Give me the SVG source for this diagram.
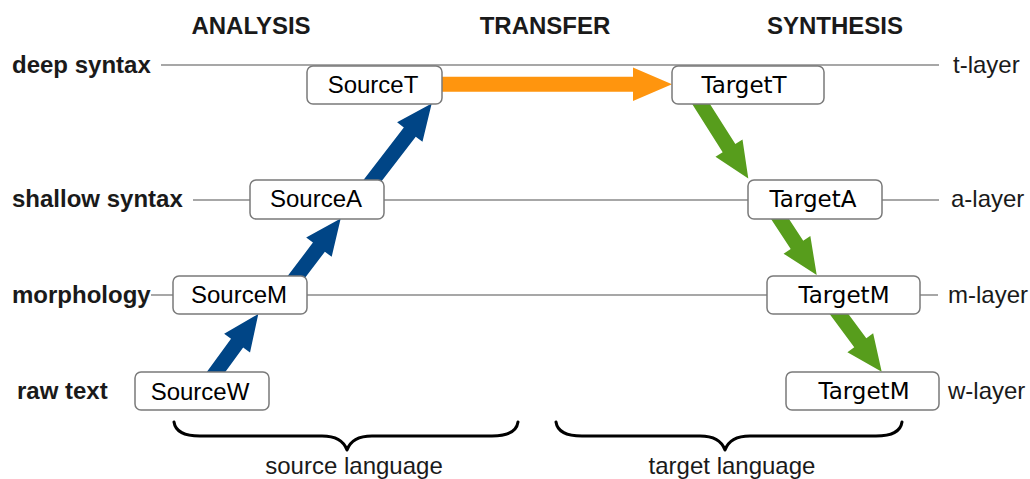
<svg xmlns="http://www.w3.org/2000/svg" width="1030" height="479" viewBox="0 0 1030 479">
<style>
.bg{fill:#ffffff}
.head{font-family:"Liberation Sans",Arial,sans-serif;font-weight:bold;font-size:24px;fill:#1a1a1a;text-anchor:middle}
.lab{font-family:"Liberation Sans",Arial,sans-serif;font-weight:bold;font-size:24px;fill:#1a1a1a}
.rl{font-family:"Liberation Sans",Arial,sans-serif;font-size:24px;fill:#1a1a1a}
.bl{font-family:"Liberation Sans",Arial,sans-serif;font-size:24px;fill:#1a1a1a;text-anchor:middle}
.layer{stroke:#8a8a8a;stroke-width:1.4;fill:none}
.box{fill:#ffffff;stroke:#7a7a7a;stroke-width:1.5}
.st{font-family:"Liberation Sans",Arial,sans-serif;font-size:24px;fill:#000;text-anchor:middle}
.tt{font-family:"DejaVu Sans",sans-serif;font-size:23px;fill:#000;text-anchor:middle}
.blue{fill:#004586}
.orange{fill:#ff950e}
.green{fill:#579d1c}
.brace{fill:none;stroke:#000;stroke-width:3;stroke-linecap:round;stroke-linejoin:round}
</style>
<rect class="bg" x="0" y="0" width="1030" height="479"/>

<g id="headings">
<text class="head" x="251" y="34">ANALYSIS</text>
<text class="head" x="545" y="34">TRANSFER</text>
<text class="head" x="835" y="34">SYNTHESIS</text>
</g>

<g id="layers">
<line class="layer" x1="161" y1="65" x2="939" y2="65"/>
<line class="layer" x1="193" y1="200" x2="939" y2="200"/>
<line class="layer" x1="151" y1="295" x2="938" y2="295"/>
<text class="lab" x="12" y="73">deep syntax</text>
<text class="lab" x="12" y="207">shallow syntax</text>
<text class="lab" x="12" y="303">morphology</text>
<text class="lab" x="17" y="399">raw text</text>
<text class="rl" x="953" y="73">t-layer</text>
<text class="rl" x="951" y="207">a-layer</text>
<text class="rl" x="948" y="303">m-layer</text>
<text class="rl" x="948" y="399">w-layer</text>
</g>

<g id="connectors">
<polygon class="blue" points="216.16,384.52 243.15,347.50 250.02,352.51 258.3,314 224.16,333.65 231.03,338.66 204.04,375.68"/>
<polygon class="blue" points="296.92,288.50 324.89,251.70 331.66,256.84 340.7,218.5 306.18,237.48 312.95,242.62 284.98,279.42"/>
<polygon class="blue" points="372.86,192.50 415.74,136.63 422.48,141.80 431.7,103.5 397.10,122.32 403.84,127.49 360.96,183.36"/>
<polygon class="orange" points="436,76.7 633,76.7 633,67.5 672,84.2 633,101 633,91.7 436,91.7"/>
<polygon class="green" points="689.31,99.58 722.67,152.13 715.49,156.69 748.3,178.5 742.51,139.53 735.33,144.09 701.97,91.54"/>
<polygon class="green" points="768.25,214.75 790.69,249.00 783.58,253.66 816.7,275 810.34,236.12 803.23,240.78 780.79,206.53"/>
<polygon class="green" points="827.02,310.42 854.25,347.22 847.42,352.28 881.7,371.7 873.14,333.24 866.31,338.30 839.08,301.50"/>
</g>

<g id="SourceT"><rect class="box" x="307" y="66" width="135" height="38" rx="6"/><text class="st" x="373" y="93">SourceT</text></g>
<g id="SourceA"><rect class="box" x="250" y="180" width="134" height="39" rx="6"/><text class="st" x="316" y="207">SourceA</text></g>
<g id="SourceM"><rect class="box" x="173" y="276" width="134" height="38" rx="6"/><text class="st" x="239" y="303">SourceM</text></g>
<g id="SourceW"><rect class="box" x="135" y="372" width="134" height="38" rx="6"/><text class="st" x="200" y="400">SourceW</text></g>
<g id="TargetT"><rect class="box" x="672" y="66" width="152" height="38" rx="6"/><text class="tt" x="744" y="93">TargetT</text></g>
<g id="TargetA"><rect class="box" x="748" y="180" width="134" height="39" rx="6"/><text class="tt" x="813" y="207">TargetA</text></g>
<g id="TargetM"><rect class="box" x="767" y="276" width="153" height="38" rx="6"/><text class="tt" x="844" y="303">TargetM</text></g>
<g id="TargetW"><rect class="box" x="786" y="372" width="153" height="38" rx="6"/><text class="tt" x="864" y="399">TargetM</text></g>

<g id="braces">
<path class="brace" d="M174,422 Q176,436 200,436 L322,436 Q342,436 347,450 Q352,436 372,436 L492,436 Q516,436 518,422"/>
<path class="brace" d="M556,422 Q558,436 582,436 L700,436 Q720,436 725,450 Q730,436 750,436 L876,436 Q900,436 902,422"/>
<text class="bl" x="354" y="474">source language</text>
<text class="bl" x="732" y="474">target language</text>
</g>
</svg>
